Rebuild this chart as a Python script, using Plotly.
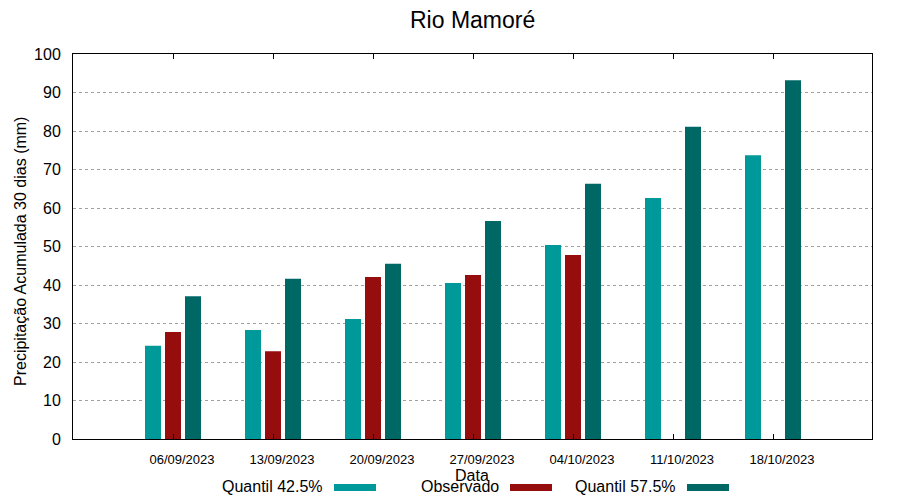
import plotly.graph_objects as go

# ---- data ----
dates = ["06/09/2023", "13/09/2023", "20/09/2023", "27/09/2023",
         "04/10/2023", "11/10/2023", "18/10/2023"]
series_names = ["Quantil 42.5%", "Observado", "Quantil 57.5%"]
q425 = [24.2, 28.3, 31.2, 40.5, 50.4, 62.6, 73.7]
observado = [27.8, 22.8, 42.1, 42.6, 47.8, None, None]
q575 = [37.1, 41.6, 45.5, 56.6, 66.3, 81.1, 93.2]
colors = ["#009999", "#960d0d", "#006864"]
yticks = [0, 10, 20, 30, 40, 50, 60, 70, 80, 90, 100]

W, H = 900, 500
L, R, T, B = 73, 872, 54, 439
FONT = "Liberation Sans, Arial, sans-serif"

def px_x(x):
    return (x - L) / (R - L)

def px_y(y):
    return (B - y) / (B - T)

xidx = list(range(len(dates)))
fig = go.Figure()
for name, vals, col in zip(series_names, [q425, observado, q575], colors):
    fig.add_trace(go.Bar(x=xidx, y=vals, name=name, marker_color=col,
                         marker_line_width=0, showlegend=False))

annotations = [
    dict(text="Rio Mamoré", x=px_x(472), y=px_y(20), xref="paper", yref="paper",
         showarrow=False, font=dict(size=23, color="black", family=FONT),
         xanchor="center", yanchor="middle"),
    dict(text="Data", x=px_x(472), y=px_y(476), xref="paper", yref="paper",
         showarrow=False, font=dict(size=16, color="black", family=FONT),
         xanchor="center", yanchor="middle"),
    dict(text="Precipitação Acumulada 30 dias (mm)", x=px_x(21), y=px_y(252),
         xref="paper", yref="paper", showarrow=False, textangle=-90,
         font=dict(size=16, color="black", family=FONT),
         xanchor="center", yanchor="middle"),
]
shapes = []
legend_text_right = [325, 501, 678]
for name, col, xr in zip(series_names, colors, legend_text_right):
    annotations.append(dict(text=name, x=px_x(xr), y=px_y(486), xref="paper",
                            yref="paper", showarrow=False, xanchor="right",
                            yanchor="middle",
                            font=dict(size=16, color="black", family=FONT)))
    shapes.append(dict(type="rect", xref="paper", yref="paper",
                       x0=px_x(xr + 9), x1=px_x(xr + 51),
                       y0=px_y(484), y1=px_y(491),
                       fillcolor=col, line=dict(width=0)))

fig.update_layout(
    width=W, height=H,
    margin=dict(l=L, r=W - R, t=T, b=H - B, pad=0),
    paper_bgcolor="white", plot_bgcolor="white",
    barmode="group", bargap=0.4, bargroupgap=0.2,
    showlegend=False,
    font=dict(family=FONT, color="black"),
    annotations=annotations, shapes=shapes,
    xaxis=dict(range=[-1, 6.99], tickmode="array", tickvals=xidx, ticktext=dates,
               ticks="inside", ticklen=5, tickcolor="black", mirror="ticks",
               showline=True, linecolor="black", linewidth=1, showgrid=False,
               zeroline=False, tickfont=dict(size=13, color="black", family=FONT),
               ticklabelshift=9, ticklabelstandoff=8, fixedrange=True),
    yaxis=dict(range=[0, 100], tickmode="array", tickvals=yticks,
               ticks="", mirror=True, showline=True, linecolor="black", linewidth=1,
               showgrid=True, gridcolor="#a0a0a0", gridwidth=1, griddash="3px,3px",
               zeroline=False, tickfont=dict(size=16, color="black", family=FONT),
               ticklabelstandoff=8, fixedrange=True),
)

fig.write_html("out.html", config={"displayModeBar": False},
               post_script="document.body.style.margin='0';document.body.style.overflow='hidden';")
